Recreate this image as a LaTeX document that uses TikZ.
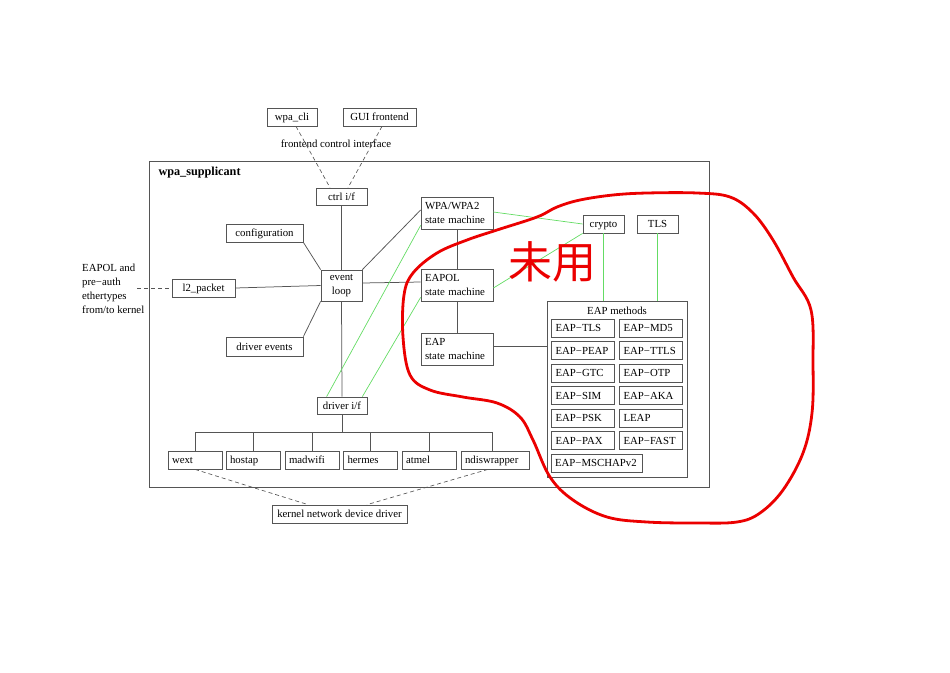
\documentclass[tikz,border=0pt]{standalone}
\usepackage{fontspec}
\setmainfont{Liberation Serif}
\newfontfamily\cjkfont{Noto Sans CJK SC}
\usetikzlibrary{calc}
\definecolor{boxgray}{RGB}{85,85,85}
\definecolor{linkgreen}{RGB}{100,220,100}
\definecolor{inkred}{RGB}{235,0,0}

\begin{document}
\begin{tikzpicture}[
    x=1pt, y=-1pt,
    font=\fontsize{10.8}{13.8}\selectfont,
    base/.style={
        rectangle, draw=boxgray, line width=0.75pt,
        inner xsep=4pt, inner ysep=0pt,
        minimum height=18pt, align=center
    },
    box/.style={base, text height=8.6pt, text depth=1.4pt},
    lbox/.style={box, align=left},
    twoline/.style={base, align=left, text width=64pt, minimum height=32pt},
    method/.style={lbox, text width=55pt},
    drv/.style={lbox, text width=46pt},
    link/.style={draw=boxgray, line width=0.75pt},
    glink/.style={draw=linkgreen, line width=0.7pt},
    dlink/.style={draw=boxgray, line width=0.65pt, dash pattern=on 4pt off 3pt}
]
\useasboundingbox (0,0) rectangle (950,672);

% Frontends
\node[box, minimum width=50pt] (cli) at (292,117) {wpa\_cli};
\node[box, minimum width=73pt] (gui) at (379.5,117) {GUI frontend};
\node (ctrllbl) at (336,144) {frontend control interface};

% wpa_supplicant frame
\node[base, minimum width=560pt, minimum height=326pt] (wpas) at (429,324) {};
\node[anchor=west, font=\fontsize{12.2}{14}\selectfont\bfseries] (wpaslbl) at (155,173) {wpa\_supplicant};

% Core
\node[box, minimum width=51pt, minimum height=17pt] (ctrlif) at (341.5,196.5) {ctrl i/f};
\node[box, minimum width=77pt] (config) at (264.5,233) {configuration};
\node[box, minimum width=63pt] (l2) at (203.5,288) {l2\_packet};
\node[base, minimum width=41pt, minimum height=31pt] (loop) at (341.5,285.5) {event\\loop};
\node[box, minimum width=77pt, minimum height=19pt] (drvev) at (264.5,346.5) {driver events};
\node[box, minimum width=50pt, minimum height=17pt] (drvif) at (342,405.5) {driver i/f};
\node[anchor=north west, align=left, inner sep=0pt] (eapoltxt) at (82,264) {EAPOL and\\pre−auth\\ethertypes\\from/to kernel};
\coordinate (ext) at (137,288);

% State machines
\node[twoline] (wpa) at (457,213) {WPA/WPA2\\state machine};
\node[twoline] (eapol) at (457,285) {EAPOL\\state machine};
\node[twoline] (eap) at (457,349) {EAP\\state machine};
\node[box, minimum width=41pt] (crypto) at (603.5,224) {crypto};
\node[box, minimum width=41pt] (tls) at (657.5,224) {TLS};

% EAP methods
\node[base, minimum width=140pt, minimum height=176pt] (methods) at (617,389) {};
\node (methlbl) at (617,311) {EAP methods};
\node[method] (mtls)  at (583,328)   {EAP−TLS};
\node[method] (mmd5)  at (651,328)   {EAP−MD5};
\node[method] (mpeap) at (583,350.5) {EAP−PEAP};
\node[method] (mttls) at (651,350.5) {EAP−TTLS};
\node[method] (mgtc)  at (583,373)   {EAP−GTC};
\node[method] (motp)  at (651,373)   {EAP−OTP};
\node[method] (msim)  at (583,395.5) {EAP−SIM};
\node[method] (maka)  at (651,395.5) {EAP−AKA};
\node[method] (mpsk)  at (583,418)   {EAP−PSK};
\node[method] (mleap) at (651,418)   {LEAP};
\node[method] (mpax)  at (583,440.5) {EAP−PAX};
\node[method] (mfast) at (651,440.5) {EAP−FAST};
\node[lbox, text width=83pt] (mmschap) at (596.5,463) {EAP−MSCHAPv2};

% Drivers
\node[drv] (wext)    at (195,460) {wext};
\node[drv] (hostap)  at (253,460) {hostap};
\node[drv] (madwifi) at (312,460) {madwifi};
\node[drv] (hermes)  at (370.5,460) {hermes};
\node[drv] (atmel)   at (429,460) {atmel};
\node[lbox, text width=60pt] (ndis) at (495,460) {ndiswrapper};
\node[box, minimum width=135pt] (kernel) at (339.5,514) {kernel network device driver};
\coordinate (bus) at (342,432);

% Black links
\draw[link] (ctrlif.south) -- (loop.north);
\draw[link] (loop.south) -- (drvif.north);
\draw[link] (l2.east) -- (loop.west);
\draw[link] (config.south east) -- (loop.north west);
\draw[link] (drvev.north east) -- (loop.south west);
\draw[link] (loop.north east) -- ([yshift=3pt]wpa.west);
\draw[link] ([yshift=2.5pt]loop.east) -- ([yshift=3pt]eapol.west);
\draw[link] (wpa.south) -- (eapol.north);
\draw[link] (eapol.south) -- (eap.north);
\draw[link] ([yshift=3pt]eap.east) -- ([yshift=3pt]eap.east -| methods.west);
\draw[link] (drvif.south) -- (bus);
\draw[link] (wext.north |- bus) -- ([xshift=-3pt]ndis.north |- bus);
\foreach \d in {wext,hostap,madwifi,hermes,atmel} {
    \draw[link] (\d.north) -- (\d.north |- bus);
}
\draw[link] ([xshift=-3pt]ndis.north) -- ([xshift=-3pt]ndis.north |- bus);

% Green links
\draw[glink] ([yshift=1pt]wpa.east) -- (crypto.west);
\draw[glink] ([yshift=-3pt]eapol.east) -- (crypto.south west);
\draw[glink] (crypto.south) -- (crypto.south |- methods.north);
\draw[glink] (tls.south) -- (tls.south |- methods.north);
\draw[glink] ([xshift=10pt]drvif.north west) -- ([yshift=4pt]wpa.south west);
\draw[glink] ([xshift=-5pt]drvif.north east) -- ([yshift=4pt]eapol.south west);

% Dashed links
\draw[dlink] ([xshift=4pt]cli.south) -- ([xshift=-11.5pt]ctrlif.north);
\draw[dlink] ([xshift=2.5pt]gui.south) -- ([xshift=6.5pt]ctrlif.north);
\draw[dlink] (ext) -- (l2.west);
\draw[dlink] (wext.south) -- ([xshift=-31.5pt]kernel.north);
\draw[dlink] ([xshift=-7pt]ndis.south) -- ([xshift=27.5pt]kernel.north);

% Hand-drawn note
\draw[inkred, line width=2.8pt, line join=round] plot[smooth cycle, tension=0.6] coordinates {
    (403,337) (404,295) (413,273) (437,253) (467,240) (497,230) (537,217)
    (557,207) (580,200) (613,195) (647,193) (697,193) (730,197) (753,213)
    (773,240) (793,277) (811,310) (813,363) (812,413) (803,453) (783,490)
    (760,513) (737,522) (697,523) (647,522) (607,517) (573,500) (550,477)
    (533,440) (520,417) (497,403) (463,397) (430,390) (410,375)
};
\node[text=inkred, font=\cjkfont\fontsize{44}{48}\selectfont] (note) at (552,262) {未用};

\end{tikzpicture}
\end{document}
